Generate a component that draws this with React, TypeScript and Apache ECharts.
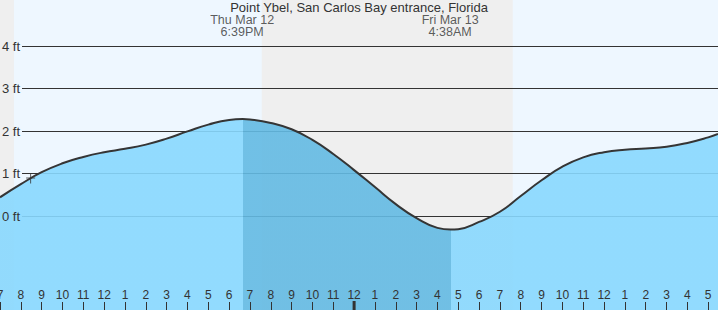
import React, { useEffect, useRef } from 'react';
import * as echarts from 'echarts';

// ---- data (hours after 7:00 AM Thu Mar 12; heights in ft) ----
const TITLE = 'Point Ybel, San Carlos Bay entrance, Florida';
const tideHours = [0, 1, 2, 3, 4, 5, 6, 7, 8, 9, 10, 11, 11.65, 12, 13, 14, 15, 16, 17, 18, 19, 20, 21, 21.633, 22, 23, 24, 25, 26, 27, 28, 29, 30, 31, 32, 33, 34, 34.47];
const tideFeet = [0.44, 0.75, 1.03, 1.24, 1.39, 1.5, 1.58, 1.68, 1.82, 1.99, 2.15, 2.26, 2.28, 2.27, 2.19, 2.04, 1.79, 1.46, 1.08, 0.68, 0.28, -0.05, -0.28, -0.32, -0.31, -0.14, 0.1, 0.47, 0.84, 1.16, 1.38, 1.5, 1.56, 1.59, 1.63, 1.72, 1.85, 1.93];
const eventHours = [11.65, 21.633];
const eventLabels = ['Thu Mar 12\n6:39PM', 'Fri Mar 13\n4:38AM'];
const nightStart = [0, 12.567];
const nightEnd = [0.667, 24.617];
const nowHour = [1.47];
const nowFeet = [0.88];
const midnightHours = [17];
const START_CLOCK = 7;

const X_MAX = 34.47;
const Y_MIN = -2.2118;
const Y_MAX = 5.0824;

const FONT = '"Liberation Sans", Arial, sans-serif';
const DAY_BG = '#eef7ff';
const NIGHT_BG = '#efefef';
const LIGHT = 'rgb(136,216,254)';
const DARK = 'rgb(99,186,227)';
const INK = '#333';

export default function App() {
  const ref = useRef<HTMLDivElement>(null);
  useEffect(() => {
    if (!ref.current) return;
    const chart = echarts.init(ref.current, undefined, { renderer: 'svg' });
    const tide = tideHours.map((h, i) => [h, tideFeet[i]]);
    const hourFmt = (v: number) => {
      if (Math.abs(v - Math.round(v)) > 1e-6) return '';
      const r = Math.round(v);
      return String(((START_CLOCK + r + 11) % 12) + 1);
    };
    const option: any = {
      animation: false,
      textStyle: { fontFamily: FONT },
      title: {
        text: TITLE,
        left: 'center',
        top: 1,
        padding: 0,
        textStyle: { fontSize: 13, fontWeight: 'normal', color: INK, fontFamily: FONT },
      },
      grid: [
        { left: 0, right: 0, top: 0, bottom: 0, outerBoundsMode: 'none', containLabel: false },
        { left: 22, right: 0, top: 46, bottom: 94, outerBoundsMode: 'none', containLabel: false },
      ],
      xAxis: [
        {
          type: 'value', gridIndex: 0, min: 0, max: X_MAX, interval: 1, position: 'bottom', z: 10,
          splitLine: { show: false }, axisLine: { show: false, onZero: false },
          axisTick: { show: true, inside: true, length: 8, lineStyle: { color: INK, width: 1 } },
          axisLabel: { inside: true, margin: 9, fontSize: 12, color: INK, fontFamily: FONT, formatter: hourFmt, showMaxLabel: false, showMinLabel: true, hideOverlap: false },
        },
        { type: 'value', gridIndex: 1, min: 0, max: 1, show: false, axisLine: { onZero: false } },
      ],
      yAxis: [
        { type: 'value', gridIndex: 0, min: Y_MIN, max: Y_MAX, show: false, axisLine: { onZero: false } },
        {
          type: 'value', gridIndex: 1, min: 0, max: 4, interval: 1, z: 0,
          axisLine: { show: false, onZero: false }, axisTick: { show: false },
          splitLine: { show: true, lineStyle: { color: INK, width: 1 } },
          axisLabel: { show: false },
        },
        {
          type: 'value', gridIndex: 1, min: 0, max: 4, interval: 1, z: 10, position: 'left', offset: 0,
          axisLine: { show: false, onZero: false }, axisTick: { show: false },
          splitLine: { show: false },
          axisLabel: { formatter: '{value} ft', margin: 2, fontSize: 13, color: INK, fontFamily: FONT },
        },
      ],
      visualMap: {
        type: 'piecewise', show: false, dimension: 0, seriesIndex: 1,
        pieces: [
          { lt: eventHours[0], color: LIGHT },
          { gte: eventHours[0], lte: eventHours[1], color: DARK },
          { gt: eventHours[1], color: LIGHT },
        ],
      },
      series: [
        {
          type: 'custom', xAxisIndex: 0, yAxisIndex: 0, z: -1, silent: true, clip: true,
          data: nightStart.map((s, i) => [s, nightEnd[i]]),
          renderItem: (_p: any, api: any) => {
            const a = api.coord([api.value(0), Y_MAX]);
            const b = api.coord([api.value(1), Y_MIN]);
            return { type: 'rect', shape: { x: a[0], y: a[1], width: b[0] - a[0], height: b[1] - a[1] }, style: { fill: NIGHT_BG } };
          },
        },
        {
          type: 'line', xAxisIndex: 0, yAxisIndex: 0, data: tide, smooth: true, symbol: 'none',
          lineStyle: { width: 0 }, areaStyle: { opacity: 0.9, origin: 'start' }, z: 2, silent: true,
        },
        {
          type: 'line', xAxisIndex: 0, yAxisIndex: 0, data: tide, smooth: true, symbol: 'none',
          lineStyle: { color: '#353535', width: 2 }, itemStyle: { color: '#353535' }, z: 3, silent: true,
        },
        {
          type: 'scatter', xAxisIndex: 0, yAxisIndex: 0, symbolSize: 1, z: 5, silent: true,
          itemStyle: { color: 'transparent' },
          data: eventHours.map((h) => [h, Y_MAX]),
          label: {
            show: true, position: [0, 14], align: 'center', verticalAlign: 'top',
            formatter: (p: any) => eventLabels[p.dataIndex],
            fontSize: 12.5, lineHeight: 12, color: INK, fontFamily: FONT,
          },
        },
        {
          type: 'scatter', xAxisIndex: 0, yAxisIndex: 0, z: 4, silent: true,
          symbol: 'path://M0,4h9v1h-9z M4,0h1v10h-1z', symbolSize: [9, 10],
          itemStyle: { color: INK },
          data: nowHour.map((h, i) => [h, nowFeet[i]]),
        },
        {
          type: 'custom', xAxisIndex: 0, yAxisIndex: 0, z: 6, silent: true,
          data: midnightHours.map((h) => [h]),
          renderItem: (_p: any, api: any) => {
            const a = api.coord([api.value(0), Y_MIN]);
            return { type: 'rect', shape: { x: a[0] - 1.5, y: a[1] - 9, width: 3, height: 9 }, style: { fill: INK } };
          },
        },
      ],
    };
    chart.setOption(option);
    return () => chart.dispose();
  }, []);
  return (
    <div
      ref={ref}
      style={{ position: 'absolute', left: 0, top: 0, width: 718, height: 310, background: DAY_BG }}
    />
  );
}
